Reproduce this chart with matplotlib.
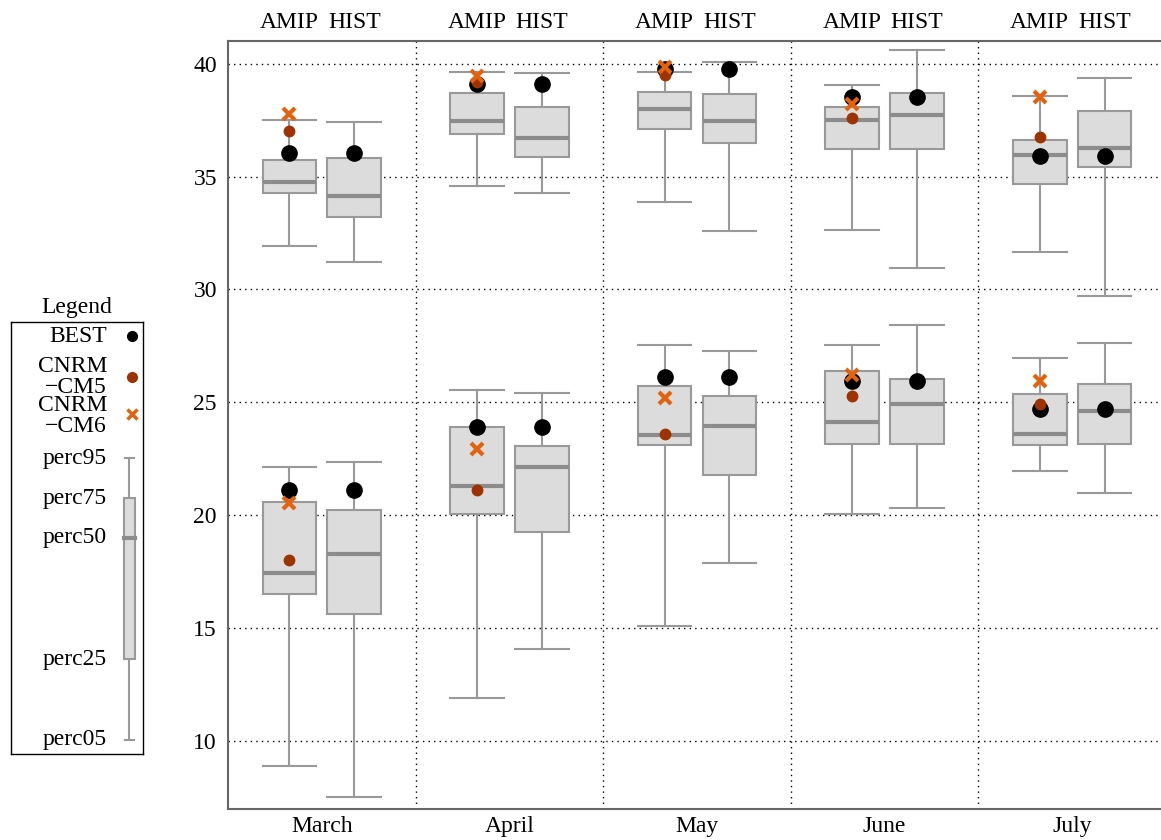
import numpy as np
import matplotlib
matplotlib.use("Agg")
import matplotlib.pyplot as plt
from matplotlib.patches import Rectangle

plt.rcParams['font.family'] = ['Liberation Serif', 'DejaVu Serif']
plt.rcParams['font.size'] = 17

months = ['March', 'April', 'May', 'June', 'July']
experiments = ['AMIP', 'HIST']

# upper group, rows = months, cols = [AMIP, HIST]
up_p05 = [[31.92, 31.21], [34.59, 34.26], [33.86, 32.58], [32.63, 30.94], [31.65, 29.69]]
up_p25 = [[34.26, 33.19], [36.90, 35.86], [37.12, 36.50], [36.21, 36.24], [34.69, 35.41]]
up_p50 = [[34.77, 34.15], [37.48, 36.70], [37.98, 37.45], [37.51, 37.73], [35.96, 36.27]]
up_p75 = [[35.72, 35.80], [38.69, 38.10], [38.73, 38.66], [38.10, 38.72], [36.62, 37.92]]
up_p95 = [[37.52, 37.40], [39.62, 39.59], [39.62, 40.09], [39.03, 40.59], [38.57, 39.35]]
up_best = [36.03, 39.10, 39.76, 38.54, 35.90]
up_cm5 = [37.02, 39.17, 39.50, 37.61, 36.76]
up_cm6 = [37.77, 39.47, 39.87, 38.23, 38.53]

# lower group
lo_p05 = [[8.91, 7.54], [11.92, 14.07], [15.09, 17.89], [20.07, 20.32], [21.98, 21.01]]
lo_p25 = [[16.52, 15.65], [20.07, 19.25], [23.11, 21.77], [23.16, 23.14], [23.11, 23.14]]
lo_p50 = [[17.45, 18.30], [21.31, 22.14], [23.57, 23.95], [24.13, 24.94], [23.61, 24.60]]
lo_p75 = [[20.58, 20.22], [23.91, 23.08], [25.71, 25.28], [26.40, 26.03], [25.38, 25.83]]
lo_p95 = [[22.15, 22.38], [25.56, 25.40], [27.54, 27.28], [27.55, 28.41], [26.95, 27.61]]
lo_best = [21.14, 23.92, 26.12, 25.97, 24.73]
lo_cm5 = [18.02, 21.11, 23.60, 25.27, 24.93]
lo_cm6 = [20.56, 22.92, 25.20, 26.22, 25.97]

yticks = [10, 15, 20, 25, 30, 35, 40]

BOX_FACE = '#dcdcdc'
BOX_EDGE = '#999999'
MED_COL = '#8c8c8c'
CM5_COL = '#9c3300'
CM6_COL = '#e2620e'

offsets = [-0.173, 0.173]
width = 0.286

fig = plt.figure(figsize=(11.61, 8.4), dpi=100)
ax = fig.add_axes([228 / 1161, 1 - 809 / 840, (1166 - 228) / 1161, (809 - 41) / 840])

def draw_group(p05, p25, p50, p75, p95, best, cm5, cm6):
    stats, pos = [], []
    for m in range(len(months)):
        for e in range(len(experiments)):
            stats.append(dict(whislo=p05[m][e], q1=p25[m][e], med=p50[m][e],
                              q3=p75[m][e], whishi=p95[m][e], fliers=[]))
            pos.append(m + 0.5 + offsets[e])
    ax.bxp(stats, positions=pos, widths=width, capwidths=width, patch_artist=True,
           showfliers=False,
           boxprops=dict(facecolor=BOX_FACE, edgecolor=BOX_EDGE, linewidth=1.5),
           medianprops=dict(color=MED_COL, linewidth=3),
           whiskerprops=dict(color=BOX_EDGE, linewidth=1.5),
           capprops=dict(color=BOX_EDGE, linewidth=1.5))
    xm = np.arange(len(months)) + 0.5
    for e in range(len(experiments)):
        ax.plot(xm + offsets[e], best, 'o', color='black', ms=11, zorder=5)
    ax.plot(xm + offsets[0], cm5, 'o', color=CM5_COL, ms=7.5, zorder=6)
    ax.plot(xm + offsets[0], cm6, 'x', color=CM6_COL, ms=8, mew=3, zorder=7)

draw_group(up_p05, up_p25, up_p50, up_p75, up_p95, up_best, up_cm5, up_cm6)
draw_group(lo_p05, lo_p25, lo_p50, lo_p75, lo_p95, lo_best, lo_cm5, lo_cm6)

ax.set_xlim(0, len(months))
ax.set_ylim(7, 41)
ax.set_yticks(yticks)
ax.set_xticks(np.arange(len(months)) + 0.5)
ax.set_xticklabels(months)
ax.set_xticks(np.arange(1, len(months)), minor=True)
ax.tick_params(axis='both', which='both', length=0)
ax.tick_params(axis='x', pad=5)
ax.tick_params(axis='y', pad=8)
ax.grid(axis='y', which='major', color='black', linestyle=(0, (1, 3)), linewidth=1)
ax.grid(axis='x', which='minor', color='black', linestyle=(0, (1, 3)), linewidth=1)
ax.grid(axis='x', which='major', visible=False)
ax.set_axisbelow(True)
for s in ax.spines.values():
    s.set_color('#666666')
    s.set_linewidth(1.5)

top = ax.secondary_xaxis('top')
top_pos = [m + 0.5 + o for m in range(len(months)) for o in offsets]
top.set_xticks(top_pos)
top.set_xticklabels(experiments * len(months))
top.tick_params(length=0, pad=6)
top.spines['top'].set_visible(False)

# legend panel (coordinates in figure pixels)
lg = fig.add_axes([11 / 1161, 1 - 754 / 840, (143 - 11) / 1161, (754 - 322) / 840])
lg.set_xlim(11, 143)
lg.set_ylim(754, 322)
lg.set_xticks([])
lg.set_yticks([])
for s in lg.spines.values():
    s.set_color('black')
    s.set_linewidth(1)
lg.text(77, 307, 'Legend', ha='center', va='center', clip_on=False)
xt = 107
lg.text(xt, 336, 'BEST', ha='right', va='center')
lg.text(xt, 377, 'CNRM\n\u2212CM5', ha='right', va='center', multialignment='right', linespacing=0.95)
lg.text(xt, 416, 'CNRM\n\u2212CM6', ha='right', va='center', multialignment='right', linespacing=0.95)
perc_labels = ['perc95', 'perc75', 'perc50', 'perc25', 'perc05']
perc_y = [458, 498, 538, 660, 740]
for lab, yy in zip(perc_labels, perc_y):
    lg.text(xt, yy, lab, ha='right', va='center')
mx = 131.5
lg.plot(mx, 336, 'o', color='black', ms=7)
lg.plot(mx, 377, 'o', color=CM5_COL, ms=7)
lg.plot(mx, 414, 'x', color=CM6_COL, ms=7, mew=2.5)
lg.plot([129, 129], [458, 740], color=BOX_EDGE, lw=1.5)
lg.plot([124.5, 133.5], [458, 458], color=BOX_EDGE, lw=1.5)
lg.plot([124.5, 133.5], [740, 740], color=BOX_EDGE, lw=1.5)
lg.add_patch(Rectangle((123.5, 498), 11, 161, facecolor=BOX_FACE, edgecolor=BOX_EDGE, lw=1.5, zorder=3))
lg.plot([123.5, 134.5], [538, 538], color=MED_COL, lw=3, zorder=4)

fig.savefig('out.png', dpi=100)
